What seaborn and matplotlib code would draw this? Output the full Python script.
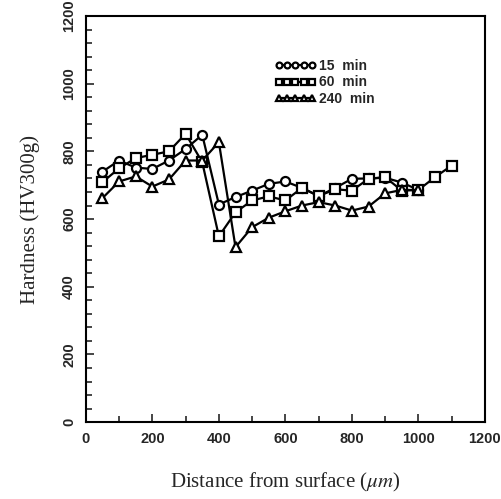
import pandas as pd
import seaborn as sns
import matplotlib.pyplot as plt
from matplotlib.ticker import MultipleLocator

# Valeurs
dist_15 = [50, 100, 150, 200, 250, 300, 350, 400, 450, 500, 550, 600, 650, 700, 750, 800, 850, 900, 950, 1000]
hard_15 = [740, 773, 752, 748, 773, 807, 849, 643, 665, 684, 704, 711, 692, 668, 692, 719, 720, 722, 708, 686]

dist_60 = [50, 100, 150, 200, 250, 300, 350, 400, 450, 500, 550, 600, 650, 700, 750, 800, 850, 900, 950, 1000, 1050, 1100]
hard_60 = [709, 750, 780, 790, 800, 852, 768, 549, 620, 655, 667, 655, 692, 668, 688, 684, 719, 724, 684, 686, 724, 758]

dist_240 = [50, 100, 150, 200, 250, 300, 350, 400, 450, 500, 550, 600, 650, 700, 750, 800, 850, 900, 950, 1000]
hard_240 = [662, 711, 726, 696, 717, 773, 773, 827, 517, 576, 604, 623, 640, 650, 640, 625, 637, 676, 686, 686]

labels = ['15  min', '60  min', '240  min']
markers = ['o', 's', '^']

sns.set_style('ticks')
plt.rcParams['font.family'] = ['Liberation Sans', 'DejaVu Sans']
plt.rcParams['mathtext.fontset'] = 'stix'

fig = plt.figure(figsize=(5.02, 4.99), dpi=100)
ax = fig.add_axes([0.171, 0.154, 0.795, 0.814])

series = [(dist_15, hard_15), (dist_60, hard_60), (dist_240, hard_240)]
for (x, y), lab, m in zip(series, labels, markers):
    sns.lineplot(x=x, y=y, ax=ax, color='black', linewidth=1.6, marker=m,
                 markersize=6.5 if m != '^' else 7, markerfacecolor='white',
                 markeredgecolor='black', markeredgewidth=1.6, label=lab)

ax.set_xlim(0, 1200)
ax.set_ylim(0, 1200)
ax.xaxis.set_major_locator(MultipleLocator(200))
ax.xaxis.set_minor_locator(MultipleLocator(100))
ax.yaxis.set_major_locator(MultipleLocator(200))
ax.yaxis.set_minor_locator(MultipleLocator(40))
ax.tick_params(which='both', direction='in', top=False, right=False, width=1.2)
ax.tick_params(which='major', length=6, labelsize=10.5, pad=7)
ax.tick_params(which='minor', length=4)
for t in ax.get_xticklabels() + ax.get_yticklabels():
    t.set_fontweight('bold')
plt.setp(ax.get_yticklabels(), rotation=90, va='center')
for s in ax.spines.values():
    s.set_linewidth(1.5)
    s.set_color('black')

ax.set_xlabel('Distance from surface ($\\mu m$)', family='Liberation Serif', fontsize=15, labelpad=18)
ax.set_ylabel('Hardness (HV300g)', family='Liberation Serif', fontsize=15, labelpad=16)

leg = ax.legend(loc='upper left', bbox_to_anchor=(0.455, 0.912), frameon=False, numpoints=5,
                markerscale=0.65, handlelength=3.0, handletextpad=0.2, labelspacing=0.2,
                borderpad=0, prop={'weight': 'bold', 'size': 10})

plt.savefig('out.png', dpi=100)
plt.close()
